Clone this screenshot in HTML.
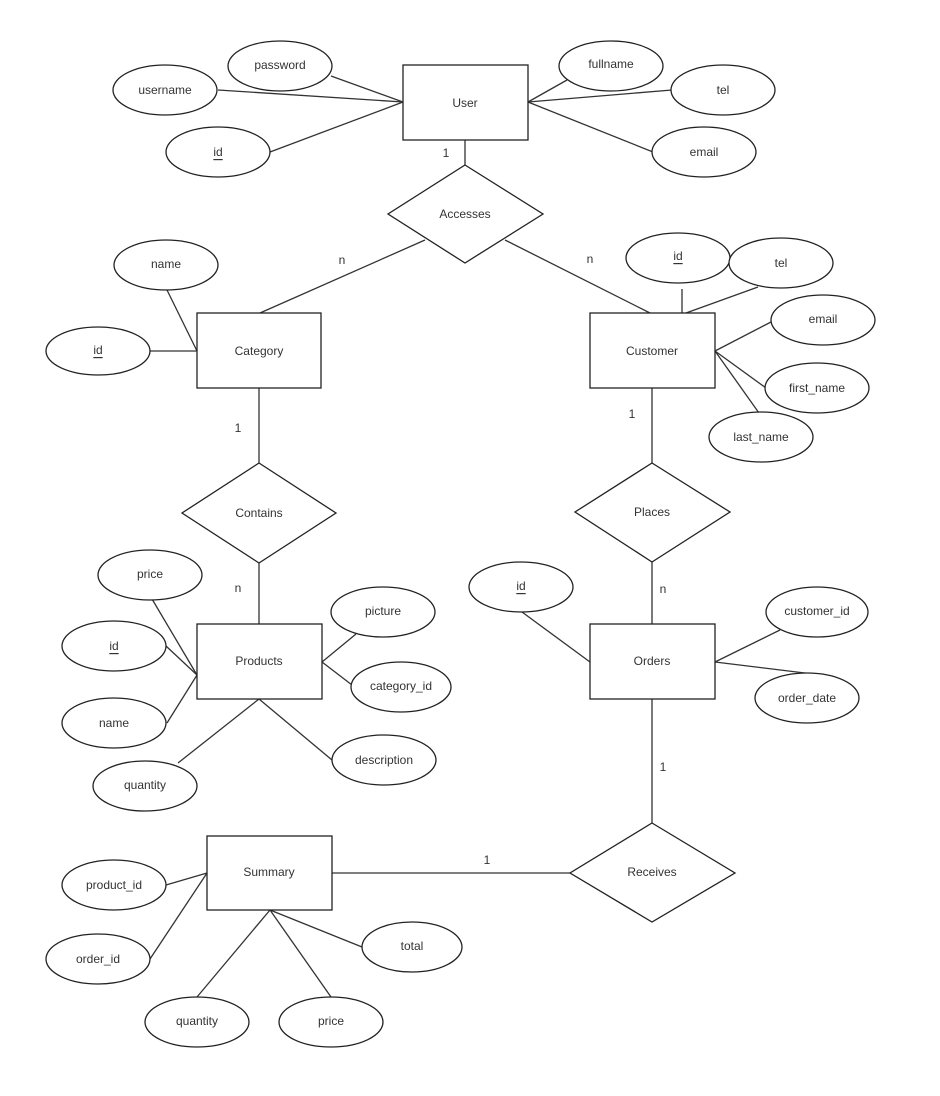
<!DOCTYPE html>
<html><head><meta charset="utf-8"><style>
html,body{margin:0;padding:0;background:#fff;}
svg{display:block;}
text{font-family:"Liberation Sans",Arial,sans-serif;font-size:12px;fill:#333;text-anchor:middle;dominant-baseline:central;}
.s{fill:#fff;stroke:#222;stroke-width:1.3;}
line{stroke:#333;stroke-width:1.3;}
</style></head><body>
<svg width="940" height="1096" viewBox="0 0 940 1096">
<!-- lines -->
<line x1="331" y1="76" x2="403" y2="102"/>
<line x1="218" y1="90" x2="403" y2="102"/>
<line x1="270" y1="152" x2="403" y2="102"/>
<line x1="567" y1="80" x2="528" y2="102"/>
<line x1="672" y1="90" x2="528" y2="102"/>
<line x1="653" y1="152" x2="528" y2="102"/>
<line x1="465" y1="140" x2="465" y2="165"/>
<line x1="425" y1="240" x2="260" y2="313"/>
<line x1="505" y1="240" x2="650" y2="313"/>
<line x1="167" y1="290" x2="197" y2="351"/>
<line x1="150" y1="351" x2="197" y2="351"/>
<line x1="682" y1="289" x2="682" y2="313"/>
<line x1="758" y1="287" x2="686" y2="313"/>
<line x1="771" y1="322" x2="715" y2="351"/>
<line x1="766" y1="388" x2="715" y2="351"/>
<line x1="759" y1="413" x2="715" y2="351"/>
<line x1="259" y1="388" x2="259" y2="463"/>
<line x1="259" y1="563" x2="259" y2="624"/>
<line x1="652" y1="388" x2="652" y2="463"/>
<line x1="652" y1="562" x2="652" y2="624"/>
<line x1="152" y1="599" x2="197" y2="675"/>
<line x1="166" y1="646" x2="197" y2="675"/>
<line x1="167" y1="723" x2="197" y2="675"/>
<line x1="178" y1="763" x2="259" y2="699"/>
<line x1="259" y1="699" x2="332" y2="760"/>
<line x1="322" y1="662" x2="356" y2="634"/>
<line x1="322" y1="662" x2="352" y2="685"/>
<line x1="522" y1="612" x2="590" y2="662"/>
<line x1="715" y1="662" x2="780" y2="630"/>
<line x1="715" y1="662" x2="813" y2="674"/>
<line x1="652" y1="699" x2="652" y2="823"/>
<line x1="332" y1="873" x2="570" y2="873"/>
<line x1="166" y1="885" x2="207" y2="873"/>
<line x1="150" y1="959" x2="207" y2="873"/>
<line x1="197" y1="997" x2="270" y2="910"/>
<line x1="331" y1="997" x2="270" y2="910"/>
<line x1="362" y1="947" x2="270" y2="910"/>
<!-- entities -->
<rect class="s" x="403" y="65" width="125" height="75"/><text x="465" y="103">User</text>
<rect class="s" x="197" y="313" width="124" height="75"/><text x="259" y="351">Category</text>
<rect class="s" x="590" y="313" width="125" height="75"/><text x="652" y="351">Customer</text>
<rect class="s" x="197" y="624" width="125" height="75"/><text x="259" y="661">Products</text>
<rect class="s" x="590" y="624" width="125" height="75"/><text x="652" y="661">Orders</text>
<rect class="s" x="207" y="836" width="125" height="74"/><text x="269" y="872">Summary</text>
<!-- relationships -->
<polygon class="s" points="465,165 543,214 465,263 388,214"/><text x="465" y="214">Accesses</text>
<polygon class="s" points="259,463 336,513 259,563 182,513"/><text x="259" y="513">Contains</text>
<polygon class="s" points="652,463 730,512 652,562 575,512"/><text x="652" y="512">Places</text>
<polygon class="s" points="652,823 735,873 652,922 570,873"/><text x="652" y="872">Receives</text>
<!-- attributes -->
<g>
<ellipse class="s" cx="280" cy="66" rx="52" ry="25"/><text x="280" y="65">password</text>
<ellipse class="s" cx="165" cy="90" rx="52" ry="25"/><text x="165" y="90">username</text>
<ellipse class="s" cx="218" cy="152" rx="52" ry="25"/><text x="218" y="152" text-decoration="underline">id</text>
<ellipse class="s" cx="611" cy="66" rx="52" ry="25"/><text x="611" y="64">fullname</text>
<ellipse class="s" cx="723" cy="90" rx="52" ry="25"/><text x="723" y="90">tel</text>
<ellipse class="s" cx="704" cy="152" rx="52" ry="25"/><text x="704" y="152">email</text>
<ellipse class="s" cx="166" cy="265" rx="52" ry="25"/><text x="166" y="264">name</text>
<ellipse class="s" cx="98" cy="351" rx="52" ry="24"/><text x="98" y="350" text-decoration="underline">id</text>
<ellipse class="s" cx="678" cy="258" rx="52" ry="25"/><text x="678" y="256" text-decoration="underline">id</text>
<ellipse class="s" cx="781" cy="263" rx="52" ry="25"/><text x="781" y="263">tel</text>
<ellipse class="s" cx="823" cy="320" rx="52" ry="25"/><text x="823" y="319">email</text>
<ellipse class="s" cx="817" cy="388" rx="52" ry="25"/><text x="817" y="388">first_name</text>
<ellipse class="s" cx="761" cy="437" rx="52" ry="25"/><text x="761" y="437">last_name</text>
<ellipse class="s" cx="150" cy="575" rx="52" ry="25"/><text x="150" y="574">price</text>
<ellipse class="s" cx="114" cy="646" rx="52" ry="25"/><text x="114" y="646" text-decoration="underline">id</text>
<ellipse class="s" cx="114" cy="723" rx="52" ry="25"/><text x="114" y="723">name</text>
<ellipse class="s" cx="145" cy="786" rx="52" ry="25"/><text x="145" y="785">quantity</text>
<ellipse class="s" cx="383" cy="612" rx="52" ry="25"/><text x="383" y="611">picture</text>
<ellipse class="s" cx="401" cy="687" rx="50" ry="25"/><text x="401" y="686">category_id</text>
<ellipse class="s" cx="384" cy="760" rx="52" ry="25"/><text x="384" y="760">description</text>
<ellipse class="s" cx="521" cy="587" rx="52" ry="25"/><text x="521" y="586" text-decoration="underline">id</text>
<ellipse class="s" cx="817" cy="612" rx="51" ry="25"/><text x="817" y="611">customer_id</text>
<ellipse class="s" cx="807" cy="698" rx="52" ry="25"/><text x="807" y="698">order_date</text>
<ellipse class="s" cx="114" cy="885" rx="52" ry="25"/><text x="114" y="885">product_id</text>
<ellipse class="s" cx="98" cy="959" rx="52" ry="25"/><text x="98" y="959">order_id</text>
<ellipse class="s" cx="197" cy="1022" rx="52" ry="25"/><text x="197" y="1021">quantity</text>
<ellipse class="s" cx="331" cy="1022" rx="52" ry="25"/><text x="331" y="1021">price</text>
<ellipse class="s" cx="412" cy="947" rx="50" ry="25"/><text x="412" y="946">total</text>
</g>
<!-- cardinalities -->
<text x="446" y="153">1</text>
<text x="342" y="260">n</text>
<text x="590" y="259">n</text>
<text x="238" y="428">1</text>
<text x="632" y="414">1</text>
<text x="238" y="588">n</text>
<text x="663" y="589">n</text>
<text x="663" y="767">1</text>
<text x="487" y="860">1</text>
</svg>
</body></html>
